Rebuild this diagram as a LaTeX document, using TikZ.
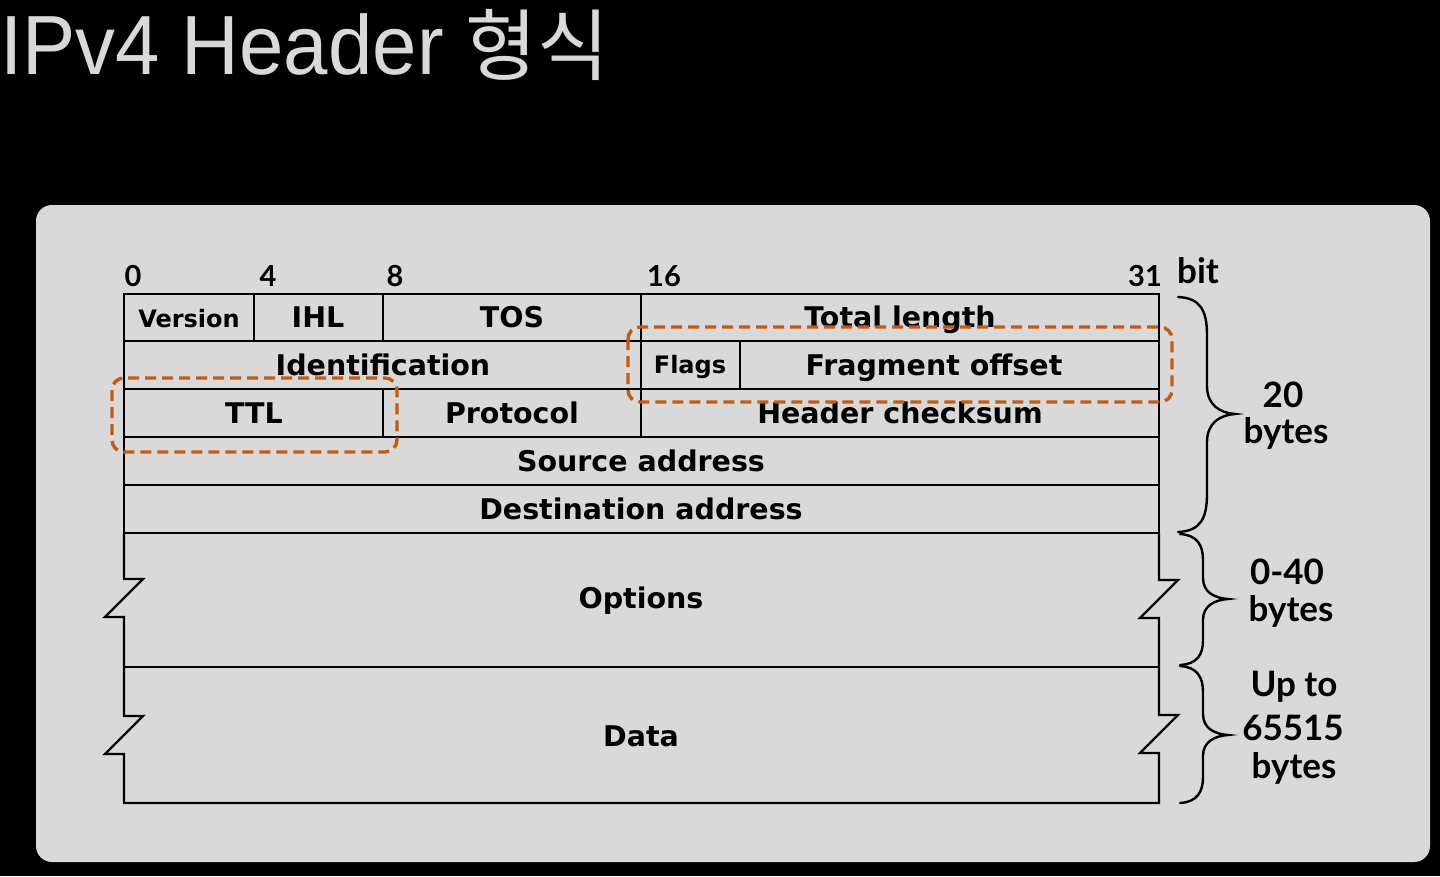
\documentclass[tikz,border=0pt]{standalone}
\usepackage{fontspec}
\setmainfont{DejaVu Sans}
\newfontfamily\latofont{Lato}
\newfontfamily\titlefont[FakeStretch=0.95]{Liberation Sans}
\newfontfamily\kofont{Noto Sans CJK KR}
\definecolor{panel}{RGB}{217,217,217}
\definecolor{titlegray}{RGB}{217,217,217}
\definecolor{hl}{RGB}{197,90,17}
\begin{document}
\begin{tikzpicture}[x=1pt,y=-1pt,
  grid/.style={line width=2.4pt,black,line join=miter},
  field/.style={inner sep=0pt,anchor=base,font=\fontsize{28.5}{30}\selectfont\bfseries},
  smallfield/.style={inner sep=0pt,anchor=base,font=\fontsize{24}{26}\selectfont\bfseries},
  bitnum/.style={inner sep=0pt,anchor=base,font=\fontsize{29}{31}\selectfont\latofont\bfseries},
  sizelbl/.style={inner sep=0pt,anchor=base,font=\fontsize{35}{38}\selectfont\latofont\bfseries},
  bracepath/.style={line width=2.4pt,black,line cap=round},
  highlight/.style={line width=3.4pt,hl,dash pattern=on 11pt off 6pt,rounded corners=12pt}]
\useasboundingbox (0,0) rectangle (1440,876);
\fill[black] (0,0) rectangle (1440,876);

% title
\node[inner sep=0pt,anchor=base west,text=titlegray,font=\fontsize{84}{90}\selectfont] (title) at (0,74)
  {\titlefont IPv4 Header \fontsize{78}{84}\selectfont\kofont 형식};

% panel
\fill[panel,rounded corners=16pt] (36,205) rectangle (1430,862);

% bit positions
\node[bitnum] (b0) at (133,286) {0};
\node[bitnum] (b4) at (268,286) {4};
\node[bitnum] (b8) at (395,286) {8};
\node[bitnum] (b16) at (664,286) {16};
\node[bitnum] (b31) at (1145,286) {31};
\node[inner sep=0pt,anchor=base west,font=\fontsize{35}{38}\selectfont\latofont\bfseries] (bit) at (1177,283) {bit};

% fixed header rows
\draw[grid] (124,294) rectangle (1159,533);
\draw[grid] (124,341) -- (1159,341);
\draw[grid] (124,389) -- (1159,389);
\draw[grid] (124,437) -- (1159,437);
\draw[grid] (124,485) -- (1159,485);
\draw[grid] (254,294) -- (254,341);
\draw[grid] (383,294) -- (383,341);
\draw[grid] (641,294) -- (641,437);
\draw[grid] (740,341) -- (740,389);
\draw[grid] (383,389) -- (383,437);

% variable-length part with break marks
\draw[grid] (124,533) -- (124,579) -- (143,579) -- (105,617) -- (124,617)
  -- (124,716) -- (143,716) -- (105,754) -- (124,754) -- (124,803)
  -- (1159,803) -- (1159,753) -- (1140,753) -- (1178,715) -- (1159,715)
  -- (1159,618) -- (1140,618) -- (1178,580) -- (1159,580) -- (1159,533);
\draw[grid] (124,667) -- (1159,667);

% field names
\node[smallfield] (version) at (189,327) {Version};
\node[field] (ihl) at (318,327) {IHL};
\node[field] (tos) at (512,327) {TOS};
\node[field] (totlen) at (900,327) {Total length};
\node[field] (ident) at (383,375) {Identification};
\node[smallfield] (flags) at (690,373) {Flags};
\node[field] (fragoff) at (934,375) {Fragment offset};
\node[field] (ttl) at (254,423) {TTL};
\node[field] (proto) at (512,423) {Protocol};
\node[field] (hcsum) at (900,423) {Header checksum};
\node[field] (src) at (641,471) {Source address};
\node[field] (dst) at (641,519) {Destination address};
\node[field] (opts) at (641,608) {Options};
\node[field] (data) at (641,746) {Data};

% braces
\draw[bracepath] (1178,297) .. controls (1200,298) and (1207,310) .. (1207,335)
  -- (1207,386) .. controls (1207,405) and (1220,413) .. (1235,414)
  .. controls (1220,415) and (1207,423) .. (1207,442)
  -- (1207,494) .. controls (1207,519) and (1200,531) .. (1178,532);
\draw[bracepath] (1180,534) .. controls (1197,535) and (1203,545) .. (1203,560)
  -- (1203,578) .. controls (1203,592) and (1214,598) .. (1228,599)
  .. controls (1214,600) and (1203,606) .. (1203,620)
  -- (1203,640) .. controls (1203,655) and (1197,664) .. (1180,665);
\draw[bracepath] (1180,666) .. controls (1197,667) and (1203,677) .. (1203,692)
  -- (1203,714) .. controls (1203,728) and (1214,734) .. (1228,735)
  .. controls (1214,736) and (1203,742) .. (1203,756)
  -- (1203,777) .. controls (1203,792) and (1197,802) .. (1180,803);

% sizes
\node[sizelbl] (s20a) at (1283,407) {20};
\node[sizelbl] (s20b) at (1286,443) {bytes};
\node[sizelbl] (s40a) at (1287,584) {0-40};
\node[sizelbl] (s40b) at (1291,621) {bytes};
\node[sizelbl] (sda) at (1294,696) {Up to};
\node[sizelbl] (sdb) at (1293,740) {65515};
\node[sizelbl] (sdc) at (1294,778) {bytes};

% highlighted fields
\draw[highlight] (112,378) rectangle (397,452);
\draw[highlight] (628,327) rectangle (1172,402);
\end{tikzpicture}
\end{document}
